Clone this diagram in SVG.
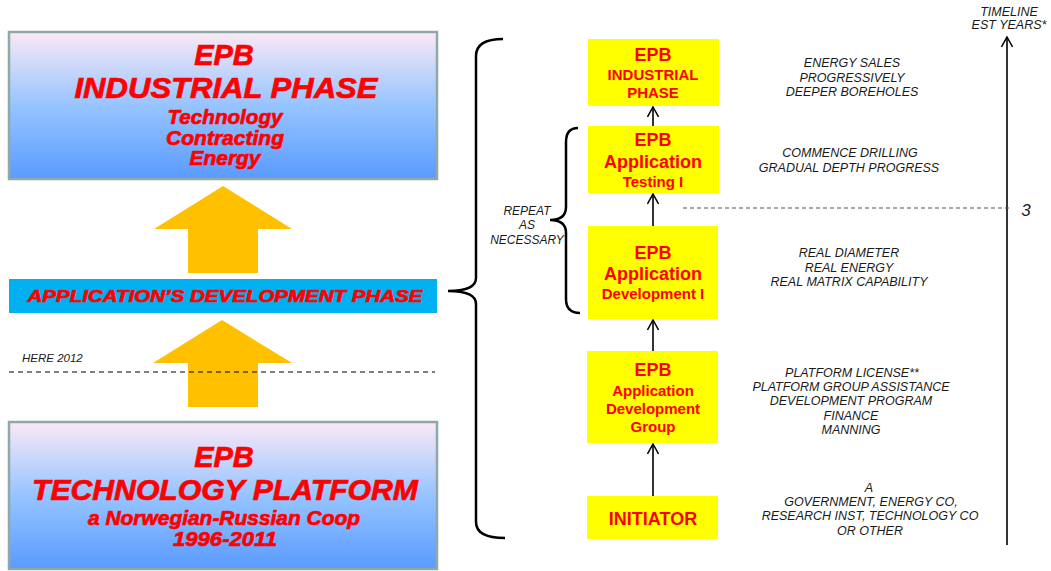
<svg xmlns="http://www.w3.org/2000/svg" width="1051" height="571" viewBox="0 0 1051 571">
<defs>
<linearGradient id="bg" x1="0" y1="0" x2="0" y2="1">
<stop offset="0" stop-color="#FBE9F6"/>
<stop offset="0.5" stop-color="#96C4FF"/>
<stop offset="1" stop-color="#5A9BFF"/>
</linearGradient>
<marker id="arr" viewBox="0 0 12 12" refX="11" refY="6" markerWidth="12" markerHeight="12" markerUnits="userSpaceOnUse" orient="auto">
<polyline points="1,0.5 11,6 1,11.5" fill="none" stroke="#000" stroke-width="1.5"/>
</marker>
</defs>
<style>
.big{font-family:"Liberation Sans",Arial,sans-serif;font-weight:bold;font-style:italic;fill:#FF0000;stroke:#FF0000;stroke-width:0.7;text-anchor:middle}
.yb{fill:#FFFF00}
.yt{font-family:"Liberation Sans",Arial,sans-serif;font-weight:bold;fill:#FF0000;text-anchor:middle}
.note{font-family:"Liberation Sans",Arial,sans-serif;font-style:italic;font-size:12.5px;fill:#1a1a1a;text-anchor:middle}
.gbox{fill:url(#bg);stroke:#8FA8A8;stroke-width:2.5}
.orange{fill:#FFC000}
.conn{stroke:#000;stroke-width:1.6;fill:none}
.brace{stroke:#000;stroke-width:2.5;fill:none}
</style>

<g id="industrial-phase-box">
<rect class="gbox" x="9" y="32" width="428" height="147"/>
<text class="big" x="224" y="65" font-size="29">EPB</text>
<text class="big" x="226" y="98" font-size="29" textLength="303" lengthAdjust="spacingAndGlyphs">INDUSTRIAL PHASE</text>
<text class="big" x="225" y="124" font-size="20" textLength="115" lengthAdjust="spacingAndGlyphs">Technology</text>
<text class="big" x="225" y="145" font-size="20" textLength="118" lengthAdjust="spacingAndGlyphs">Contracting</text>
<text class="big" x="225" y="165" font-size="20" textLength="71" lengthAdjust="spacingAndGlyphs">Energy</text>
</g>

<g id="arrow-up-1">
<polygon class="orange" points="223,186 292,229 258,229 258,273 188,273 188,229 154,229"/>
</g>

<g id="app-dev-phase-bar">
<rect x="9" y="279" width="428" height="34" fill="#00B0F0"/>
<text class="big" x="225" y="302" font-size="17" textLength="395" lengthAdjust="spacingAndGlyphs">APPLICATION’S DEVELOPMENT PHASE</text>
</g>

<g id="arrow-up-2">
<polygon class="orange" points="222,320 292,363 258,363 258,407 188,407 188,363 153,363"/>
</g>

<g id="here-2012">
<text x="22" y="362" font-family="Liberation Sans,Arial,sans-serif" font-style="italic" font-size="11.5" fill="#1a1a1a">HERE 2012</text>
<line x1="9" y1="372" x2="435" y2="372" stroke="#000" stroke-width="1" stroke-dasharray="5,4"/>
</g>

<g id="technology-platform-box">
<rect class="gbox" x="9" y="422" width="428" height="147"/>
<text class="big" x="224" y="467" font-size="29">EPB</text>
<text class="big" x="225" y="500" font-size="29" textLength="386" lengthAdjust="spacingAndGlyphs">TECHNOLOGY PLATFORM</text>
<text class="big" x="224" y="525" font-size="20" textLength="272" lengthAdjust="spacingAndGlyphs">a Norwegian-Russian Coop</text>
<text class="big" x="225" y="546" font-size="20" textLength="104" lengthAdjust="spacingAndGlyphs">1996-2011</text>
</g>

<g id="braces">
<path class="brace" d="M503,39 Q476,39 476,56 L476,278 Q476,291 448,291 Q476,291 476,304 L476,522 Q476,538 505,538"/>
<path class="brace" d="M578,128 Q566,128 566,142 L566,207 Q566,220 550,220 Q566,220 566,233 L566,299 Q566,313 580,313"/>
<text class="note" style="font-size:12px" x="527" y="215">REPEAT</text>
<text class="note" style="font-size:12px" x="527" y="229">AS</text>
<text class="note" style="font-size:12px" x="527" y="244">NECESSARY</text>
</g>

<g id="box-industrial">
<rect class="yb" x="588" y="39" width="131" height="67"/>
<text class="yt" x="653" y="61" font-size="18">EPB</text>
<text class="yt" x="653" y="80" font-size="15">INDUSTRIAL</text>
<text class="yt" x="653" y="98" font-size="15">PHASE</text>
</g>

<g id="box-testing">
<rect class="yb" x="588" y="126" width="131" height="67"/>
<text class="yt" x="653" y="146" font-size="18">EPB</text>
<text class="yt" x="653" y="168" font-size="18">Application</text>
<text class="yt" x="653" y="187" font-size="15">Testing I</text>
</g>

<g id="box-development">
<rect class="yb" x="588" y="226" width="130" height="93"/>
<text class="yt" x="653" y="259" font-size="18">EPB</text>
<text class="yt" x="653" y="280" font-size="18">Application</text>
<text class="yt" x="653" y="299" font-size="15">Development I</text>
</g>

<g id="box-group">
<rect class="yb" x="587" y="351" width="131" height="92"/>
<text class="yt" x="653" y="376" font-size="18">EPB</text>
<text class="yt" x="653" y="396" font-size="15">Application</text>
<text class="yt" x="653" y="414" font-size="15">Development</text>
<text class="yt" x="653" y="432" font-size="15">Group</text>
</g>

<g id="box-initiator">
<rect class="yb" x="587" y="496" width="131" height="43"/>
<text class="yt" x="653" y="525" font-size="18">INITIATOR</text>
</g>

<g id="connectors">
<line class="conn" x1="653" y1="126" x2="653" y2="107" marker-end="url(#arr)"/>
<line class="conn" x1="653" y1="226" x2="653" y2="194" marker-end="url(#arr)"/>
<line class="conn" x1="653" y1="351" x2="653" y2="320" marker-end="url(#arr)"/>
<line class="conn" x1="653" y1="496" x2="653" y2="444" marker-end="url(#arr)"/>
<line class="conn" x1="1007" y1="545" x2="1007" y2="37" marker-end="url(#arr)"/>
<line x1="683" y1="208" x2="1010" y2="208" stroke="#555" stroke-width="1.2" stroke-dasharray="4,3"/>
</g>

<g id="timeline-labels">
<text class="note" x="1009" y="16">TIMELINE</text>
<text class="note" x="1009" y="29">EST YEARS*</text>
<text class="note" style="font-size:17px" x="1026" y="216">3</text>
</g>

<g id="notes">
<text class="note" x="852" y="67">ENERGY SALES</text>
<text class="note" x="852" y="82">PROGRESSIVELY</text>
<text class="note" x="852" y="96">DEEPER BOREHOLES</text>
<text class="note" x="850" y="157">COMMENCE DRILLING</text>
<text class="note" x="849" y="172">GRADUAL DEPTH PROGRESS</text>
<text class="note" x="849" y="257">REAL DIAMETER</text>
<text class="note" x="849" y="272">REAL ENERGY</text>
<text class="note" x="849" y="286">REAL MATRIX CAPABILITY</text>
<text class="note" x="852" y="377">PLATFORM LICENSE**</text>
<text class="note" x="851" y="391">PLATFORM GROUP ASSISTANCE</text>
<text class="note" x="851" y="405">DEVELOPMENT PROGRAM</text>
<text class="note" x="851" y="420">FINANCE</text>
<text class="note" x="851" y="434">MANNING</text>
<text class="note" x="869" y="492">A</text>
<text class="note" x="871" y="506">GOVERNMENT, ENERGY CO,</text>
<text class="note" x="870" y="520">RESEARCH INST, TECHNOLOGY CO</text>
<text class="note" x="870" y="535">OR OTHER</text>
</g>
</svg>
